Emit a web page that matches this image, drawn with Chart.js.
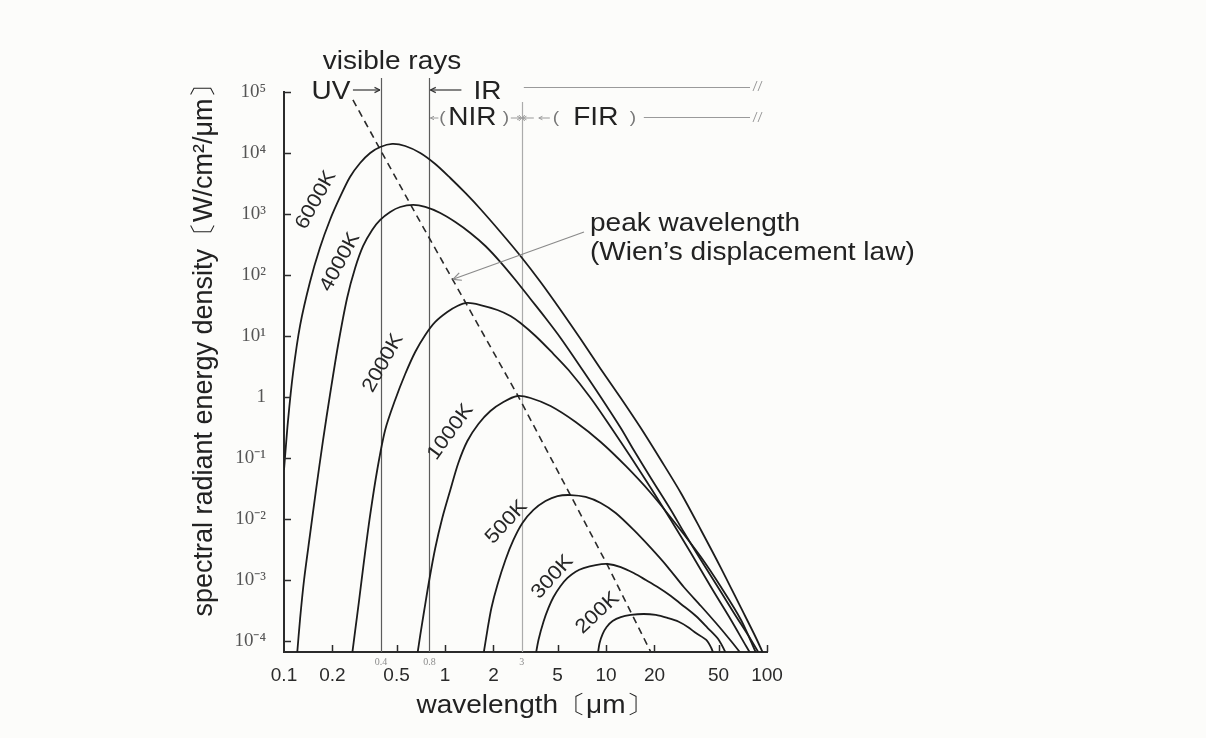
<!DOCTYPE html>
<html>
<head>
<meta charset="utf-8">
<title>Blackbody spectral radiant energy density</title>
<script src="https://cdn.jsdelivr.net/npm/chart.js@4.4.1/dist/chart.umd.min.js"></script>
<style>
  html, body { margin: 0; padding: 0; background: #fcfcfa; }
  .box { width: 1206px; height: 738px; }
</style>
</head>
<body>
<div class="box"><canvas id="bb" width="1206" height="738"></canvas></div>
<script>
// Blackbody curves on log-log axes
// wavelength in µm, energy density in W/cm²/µm

const temps = ['6000K', '4000K', '2000K', '1000K', '500K', '300K', '200K'];

const wl6000 = [0.1, 0.106, 0.114, 0.126, 0.145, 0.167, 0.193, 0.223, 0.257, 0.297, 0.343, 0.396, 0.47, 0.566, 0.702, 0.87, 1.079, 1.338, 1.659, 2.21, 2.943, 3.921, 5.223, 6.957, 9.268, 12.35, 16.45, 21.91, 29.18, 38.87, 51.78, 68.97, 85.51, 100];
const ed6000 = [0.0636, 0.42, 2.57, 15.1, 76.8, 277, 798, 1900, 4040, 6850, 10000, 12530, 14060, 13030, 10000, 6600, 3890, 2210, 1208, 507, 205, 76.8, 26.7, 8.93, 2.88, 0.963, 0.31, 0.0927, 0.0267, 0.00661, 0.00157, 0.000348, 0.000112, 0.0000453];

const wl4000 = [0.1205, 0.126, 0.1332, 0.145, 0.1581, 0.1748, 0.193, 0.2168, 0.2466, 0.2766, 0.3102, 0.3528, 0.396, 0.4566, 0.527, 0.635, 0.754, 0.935, 1.159, 1.437, 1.782, 2.21, 2.74, 3.397, 4.212, 5.223, 7.153, 9.268, 12.35, 14.86, 18.98, 25.29, 30.41, 38.87, 51.78, 62.31, 79.6, 94.3];
const ed4000 = [5.89e-5, 2.38e-4, 1.0e-3, 5.47e-3, 0.0299, 0.197, 1.079, 7.12, 42.0, 130, 299, 547, 798, 1079, 1303, 1406, 1303, 1038, 739, 489, 299, 163, 82.8, 40.4, 19.7, 9.27, 2.77, 1.0, 0.31, 0.135, 0.047, 0.01406, 0.00612, 0.00213, 0.000635, 0.000288, 0.000104, 4.89e-5];

const wl2000 = [0.2646, 0.277, 0.2929, 0.3146, 0.343, 0.3793, 0.425, 0.49, 0.566, 0.653, 0.754, 0.87, 1.033, 1.193, 1.377, 1.659, 2.116, 2.55, 2.943, 3.65, 4.525, 5.852, 8.03, 10.7, 14.25, 18.98, 25.29, 33.68, 44.86, 59.76, 74.09, 87.75];
const ed2000 = [5.89e-5, 1.51e-4, 4.70e-4, 0.00213, 0.01164, 0.0636, 0.288, 0.893, 2.38, 5.47, 10.4, 17.0, 24.7, 31.0, 34.8, 32.2, 26.7, 21.3, 16.3, 10.0, 5.68, 2.77, 0.963, 0.322, 0.104, 0.0322, 0.00963, 0.00277, 7.67e-4, 2.21e-4, 8.28e-5, 3.89e-5];

const wl1000 = [0.6726, 0.702, 0.7436, 0.7986, 0.87, 0.9621, 1.079, 1.21, 1.377, 1.612, 1.914, 2.306, 2.818, 3.397, 4.525, 6.476, 9.268, 13.26, 18.98, 27.16, 38.87, 51.78, 68.97, 87.75];
const ed1000 = [5.89e-5, 1.25e-4, 3.22e-4, 1.0e-3, 3.35e-3, 0.01038, 0.0299, 0.0828, 0.19, 0.361, 0.589, 0.828, 1.038, 0.963, 0.711, 0.389, 0.183, 0.074, 0.0267, 0.00828, 0.00238, 7.67e-4, 2.21e-4, 5.47e-5];

const wl500 = [1.731, 1.834, 1.942, 2.116, 2.373, 2.661, 3.027, 3.544, 4.209, 4.998, 6.028, 7.474, 9.268, 11.49, 14.86, 18.98, 24.17, 30.41, 38.87, 48.2, 59.76, 70.8];
const ed500 = [5.89e-5, 1.51e-4, 3.48e-4, 8.28e-4, 0.00213, 0.00453, 0.00859, 0.01406, 0.0197, 0.0238, 0.0247, 0.023, 0.0183, 0.01253, 0.00661, 0.00335, 0.00163, 7.67e-4, 3.75e-4, 1.97e-4, 1.0e-4, 5.68e-5];

const wl300 = [3.65, 3.807, 4.09, 4.393, 4.72, 5.223, 5.768, 6.476, 7.256, 8.626, 10.23, 12.35, 14.86, 17.67, 20.92, 25.29, 29.18, 36.18, 42.85, 50.21, 57.11];
const ed300 = [5.68e-5, 1.04e-4, 2.07e-4, 3.48e-4, 5.26e-4, 7.98e-4, 1.08e-3, 1.37e-3, 1.57e-3, 1.76e-3, 1.83e-3, 1.63e-3, 1.30e-3, 1.0e-3, 7.67e-4, 5.47e-4, 4.05e-4, 2.57e-4, 1.63e-4, 1.04e-4, 5.47e-5];

const wl200 = [8.866, 9.125, 9.524, 10.09, 10.99, 12.35, 14.25, 17.14, 20.39, 24.17, 28.3, 32.2, 36.18, 41.96, 45.08, 47.06];
const ed200 = [5.68e-5, 9.27e-5, 1.30e-4, 1.70e-4, 2.13e-4, 2.47e-4, 2.67e-4, 2.77e-4, 2.67e-4, 2.38e-4, 2.07e-4, 1.70e-4, 1.35e-4, 1.04e-4, 7.67e-5, 5.68e-5];

// locus of the peaks (Wien)
const wlPeak = [0.268, 0.653, 2.82, 10.2, 20];
const edPeak = [74000, 1040, 1.08, 0.00176, 0.00005];

// curve names sit beside each curve, rotated along it
const labelWl = [0.158, 0.223, 0.413, 1.08, 2.41, 4.65, 8.87];
const labelEd = [1700, 163, 3.6, 0.267, 0.0089, 0.00112, 0.000288];
const labelAngle = [-61, -62, -61, -54, -47, -48, -43];

// spectral band edges
const bandEdges = [0.4, 0.8, 3];
const bandEdgeLabels = ['0.4', '0.8', '3'];

const xTickValues = [0.1, 0.2, 0.5, 1, 2, 5, 10, 20, 50, 100];
const xTickLabels = ['0.1', '0.2', '0.5', '1', '2', '5', '10', '20', '50', '100'];
const yTickValues = [1e-4, 1e-3, 1e-2, 1e-1, 1, 1e1, 1e2, 1e3, 1e4, 1e5];
const yTickLabels = ['10⁻⁴', '10⁻³', '10⁻²', '10⁻¹', '1', '10¹', '10²', '10³', '10⁴', '10⁵'];

const peakArrowWl = 1.12;
const peakArrowEd = 85;

const SANS = '"Liberation Sans", Arial, sans-serif';
const SERIF = '"Liberation Serif", "Times New Roman", serif';
const INK = '#222';

const curves = [[wl6000, ed6000], [wl4000, ed4000], [wl2000, ed2000], [wl1000, ed1000],
                [wl500, ed500], [wl300, ed300], [wl200, ed200]];

const datasets = curves.map(([wl, ed], k) => ({
  label: temps[k],
  data: wl.map((w, i) => ({ x: w, y: ed[i] })),
  showLine: true,
  borderColor: '#1c1c1c',
  borderWidth: 1.8,
  pointRadius: 0,
  tension: 0.3
}));
datasets.push({
  label: 'peak',
  data: wlPeak.map((w, i) => ({ x: w, y: edPeak[i] })),
  showLine: true,
  borderColor: '#2a2a2a',
  borderWidth: 1.6,
  borderDash: [7, 5],
  pointRadius: 0,
  tension: 0
});

function seg(ctx, x1, y1, x2, y2) {
  ctx.beginPath(); ctx.moveTo(x1, y1); ctx.lineTo(x2, y2); ctx.stroke();
}

function arrowTo(ctx, x1, y1, x2, y2, size) {
  seg(ctx, x1, y1, x2, y2);
  const ang = Math.atan2(y2 - y1, x2 - x1);
  seg(ctx, x2, y2, x2 - size * Math.cos(ang - 0.45), y2 - size * Math.sin(ang - 0.45));
  seg(ctx, x2, y2, x2 - size * Math.cos(ang + 0.45), y2 - size * Math.sin(ang + 0.45));
}

// the lettering is a little wide, so stretch it horizontally
function wideText(ctx, s, px, py, align) {
  ctx.save();
  ctx.translate(px, py);
  ctx.scale(1.12, 1);
  ctx.textAlign = align || 'center';
  ctx.textBaseline = 'middle';
  ctx.fillText(s, 0, 0);
  ctx.restore();
}

function breakMark(ctx, px, py) {
  seg(ctx, px - 4, py + 5, px, py - 5);
  seg(ctx, px + 1, py + 5, px + 5, py - 5);
}

const marks = {
  id: 'marks',
  beforeDatasetsDraw(chart) {
    const { ctx, chartArea: a, scales: { x } } = chart;
    ctx.save();
    ctx.lineWidth = 1.2;
    bandEdges.forEach((v, i) => {
      const px = Math.round(x.getPixelForValue(v)) + 0.5;
      ctx.strokeStyle = i < 2 ? '#5c5c5c' : '#ababab';
      seg(ctx, px, i < 2 ? a.top - 14 : a.top + 10, px, a.bottom);
    });
    ctx.restore();
  },
  afterDraw(chart) {
    const { ctx, chartArea: a, scales: { x, y } } = chart;
    ctx.save();

    // tick marks point into the plot
    ctx.strokeStyle = '#2b2b2b';
    ctx.lineWidth = 1.5;
    yTickValues.forEach(v => {
      const py = Math.round(y.getPixelForValue(v)) + 0.5;
      seg(ctx, a.left, py, a.left + 7, py);
    });
    xTickValues.slice(1).forEach(v => {
      const px = Math.round(x.getPixelForValue(v)) + 0.5;
      seg(ctx, px, a.bottom, px, a.bottom - 7);
    });

    // small labels under the band edges
    ctx.fillStyle = '#8c8c8c';
    ctx.font = `10px ${SERIF}`;
    ctx.textAlign = 'center';
    ctx.textBaseline = 'middle';
    bandEdges.forEach((v, i) => ctx.fillText(bandEdgeLabels[i], x.getPixelForValue(v), a.bottom + 10));

    // axis titles
    ctx.fillStyle = INK;
    ctx.font = `25px ${SANS}`;
    wideText(ctx, 'wavelength〔μm〕', 535, 706);
    ctx.save();
    ctx.font = `27px ${SANS}`;
    ctx.translate(a.left - 79, (a.top + a.bottom) / 2 - 28);
    ctx.rotate(-Math.PI / 2);
    ctx.textAlign = 'center';
    ctx.textBaseline = 'middle';
    ctx.fillText('spectral radiant energy density〔W/cm²/μm〕', 0, 0);
    ctx.restore();

    // band captions above the frame
    const p04 = x.getPixelForValue(0.4);
    const p08 = x.getPixelForValue(0.8);
    const p3 = x.getPixelForValue(3);
    wideText(ctx, 'visible rays', 392, 62);
    wideText(ctx, 'UV', p04 - 50, 92);
    wideText(ctx, 'IR', p08 + 58, 92);
    wideText(ctx, 'NIR', p08 + 43, 118);
    wideText(ctx, 'FIR', p3 + 74, 118);

    ctx.strokeStyle = '#333';
    ctx.lineWidth = 1.2;
    arrowTo(ctx, p04 - 28, 90, p04 - 1, 90, 6);
    arrowTo(ctx, p08 + 32, 90, p08 + 1, 90, 6);

    ctx.strokeStyle = '#9a9a9a';
    ctx.fillStyle = '#777';
    ctx.lineWidth = 1;
    arrowTo(ctx, p08 + 9, 118, p08 + 1, 118, 4);
    arrowTo(ctx, p3 - 11, 118, p3 - 1, 118, 4);
    arrowTo(ctx, p3 + 12, 118, p3 + 1, 118, 4);
    arrowTo(ctx, p3 + 28, 118, p3 + 17, 118, 4);
    seg(ctx, p3 - 3, 115, p3 + 3, 121);
    seg(ctx, p3 - 3, 121, p3 + 3, 115);
    ctx.font = `17px ${SANS}`;
    wideText(ctx, '(', p08 + 13, 118);
    wideText(ctx, ')', p3 - 16, 118);
    wideText(ctx, '(', p3 + 34, 118);
    wideText(ctx, ')', p3 + 111, 118);
    seg(ctx, p3 + 2, 87.5, a.right - 17, 87.5);
    seg(ctx, p3 + 122, 117.5, a.right - 17, 117.5);
    breakMark(ctx, a.right - 10, 86);
    breakMark(ctx, a.right - 10, 117);

    // Wien's law callout
    ctx.fillStyle = INK;
    ctx.font = `25px ${SANS}`;
    wideText(ctx, 'peak wavelength', 590, 224, 'left');
    wideText(ctx, '(Wien’s displacement law)', 590, 253, 'left');
    ctx.strokeStyle = '#8a8a8a';
    ctx.lineWidth = 1.2;
    arrowTo(ctx, 584, 232, x.getPixelForValue(peakArrowWl), y.getPixelForValue(peakArrowEd), 9);

    // temperature names
    ctx.fillStyle = '#262626';
    ctx.font = `20px ${SANS}`;
    temps.forEach((t, i) => {
      ctx.save();
      ctx.translate(x.getPixelForValue(labelWl[i]), y.getPixelForValue(labelEd[i]));
      ctx.rotate(labelAngle[i] * Math.PI / 180);
      ctx.scale(1.1, 1);
      ctx.textAlign = 'center';
      ctx.textBaseline = 'middle';
      ctx.fillText(t, 0, 0);
      ctx.restore();
    });

    ctx.restore();
  }
};

new Chart(document.getElementById('bb'), {
  type: 'scatter',
  data: { datasets },
  options: {
    responsive: false,
    animation: false,
    layout: { autoPadding: false, padding: { left: 0, right: 439, top: 92, bottom: 0 } },
    plugins: { legend: { display: false }, tooltip: { enabled: false } },
    scales: {
      x: {
        type: 'logarithmic',
        position: 'bottom',
        min: 0.1,
        max: 100,
        afterFit: s => { s.height = 86; },
        afterBuildTicks: s => { s.ticks = xTickValues.map(v => ({ value: v })); },
        grid: { display: false, drawTicks: false },
        border: { display: true, color: '#2b2b2b', width: 2 },
        ticks: {
          autoSkip: false, maxRotation: 0, padding: 12,
          color: '#2a2a2a', font: { family: SANS, size: 19 },
          callback: (v, i) => xTickLabels[i]
        }
      },
      y: {
        type: 'logarithmic',
        position: 'left',
        min: 6.6e-5,
        max: 1e5,
        afterFit: s => { s.width = 284; },
        afterBuildTicks: s => { s.ticks = yTickValues.map(v => ({ value: v })); },
        grid: { display: false, drawTicks: false },
        border: { display: true, color: '#2b2b2b', width: 2 },
        ticks: {
          autoSkip: false, padding: 18,
          color: '#555', font: { family: SERIF, size: 19 },
          callback: (v, i) => yTickLabels[i]
        }
      }
    }
  },
  plugins: [marks]
});
</script>
</body>
</html>
